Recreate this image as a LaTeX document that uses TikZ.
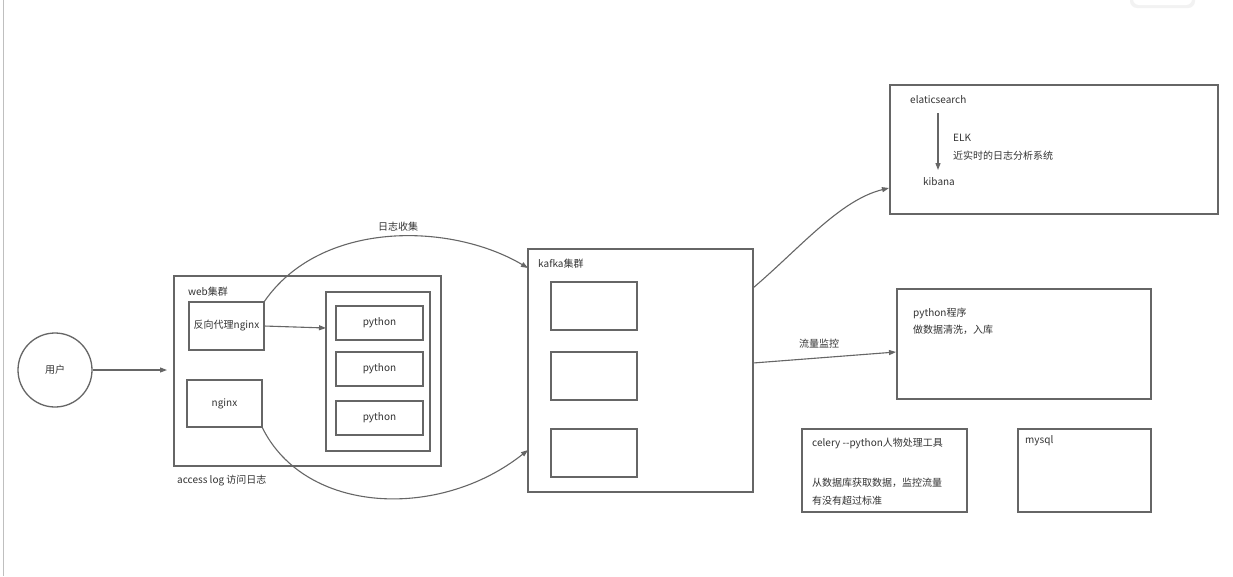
\documentclass[tikz,border=0pt]{standalone}
\usepackage{fontspec}
\setmainfont{Noto Sans CJK SC}
\usetikzlibrary{arrows.meta}
\definecolor{ln}{HTML}{666666}
\definecolor{tx}{HTML}{333333}
\tikzset{
  box/.style={draw=ln, line width=1.3pt, fill=white, inner sep=0pt, outer sep=0pt, anchor=north west},
  lbl/.style={text=tx, inner sep=0pt, anchor=west, font=\fontsize{10}{12}\selectfont},
  ctr/.style={text=tx, inner sep=0pt, font=\fontsize{10}{12}\selectfont},
  conn/.style={draw=ln, line width=1.1pt, -{Triangle[length=7pt,width=5pt]}},
}
\begin{document}
\begin{tikzpicture}[x=1pt,y=-1pt]
\useasboundingbox (0,0) rectangle (1233,576);
\fill[white] (0,0) rectangle (1233,576);
\draw[black!25, line width=0.8pt] (3,0) -- (3,576);
% small rounded shape top right
\fill[black!5, rounded corners=7pt] (1130,-12) rectangle (1195,8);
\fill[white, rounded corners=6pt] (1133,-12) rectangle (1192,5);

% user
\node[circle, draw=ln, line width=1.3pt, minimum size=74pt, inner sep=0pt, text=tx, font=\fontsize{10}{12}\selectfont] (user) at (55,370) {用户};

% web cluster
\node[box, minimum width=267pt, minimum height=190pt] (web) at (174,276) {};
\node[lbl] (webl) at (188,292) {web集群};
\node[box, minimum width=75pt, minimum height=48pt] (proxy) at (189,302) {};
\node[ctr] at (proxy.center) {反向代理nginx};
\node[box, minimum width=75pt, minimum height=47pt] (ngx) at (187,380) {};
\node[ctr] at (ngx.center) {nginx};
\node[box, minimum width=104pt, minimum height=159pt] (pyo) at (326,292) {};
\node[box, minimum width=87pt, minimum height=34pt] (py1) at (336,306) {};
\node[ctr] at (py1.center) {python};
\node[box, minimum width=87pt, minimum height=34pt] (py2) at (336,352) {};
\node[ctr] at (py2.center) {python};
\node[box, minimum width=87pt, minimum height=34pt] (py3) at (336,401) {};
\node[ctr] at (py3.center) {python};
\node[lbl] (acc) at (177,481) {access log 访问日志};

% kafka
\node[box, minimum width=225pt, minimum height=243pt] (kafka) at (528,249) {};
\node[lbl] (kafkal) at (538,264) {kafka集群};
\node[box, minimum width=86pt, minimum height=48pt] (k1) at (551,282) {};
\node[box, minimum width=86pt, minimum height=48pt] (k2) at (551,352) {};
\node[box, minimum width=86pt, minimum height=48pt] (k3) at (551,429) {};

% ELK
\node[box, minimum width=328pt, minimum height=129pt] (elk) at (890,85) {};
\node[lbl] (es) at (910,100) {elaticsearch};
\node[lbl] (kib) at (923,182) {kibana};
\node[lbl] (elkt) at (953,138) {ELK};
\node[lbl] (elkd) at (953,156) {近实时的日志分析系统};
\coordinate (esb) at (938,113);
\coordinate (kibt) at (938,170);

% python program
\node[box, minimum width=254pt, minimum height=110pt] (pp) at (897,289) {};
\node[lbl] (ppt) at (913,313) {python程序};
\node[lbl] (ppd) at (913,330) {做数据清洗，入库};

% celery
\node[box, minimum width=165pt, minimum height=83pt] (cel) at (802,429) {};
\node[lbl] (celt) at (812,443) {celery {-}{-}python人物处理工具};
\node[lbl] (celd1) at (812,483) {从数据库获取数据，监控流量};
\node[lbl] (celd2) at (812,501) {有没有超过标准};

% mysql
\node[box, minimum width=133pt, minimum height=83pt] (my) at (1018,429) {};
\node[lbl] (myt) at (1025,441) {mysql};

% connectors
\coordinate (webin) at (167,370);
\draw[conn] (user.east) -- (webin);
\coordinate (pyin) at (326,328);
\draw[conn] (proxy.east |- 0,326) -- (pyin);
\coordinate (kin1) at (528,268);
\draw[conn] (proxy.north east) .. controls (320,220) and (450,222) .. (kin1);
\node[ctr] (logc) at (398,227) {日志收集};
\coordinate (kin2) at (528,450);
\draw[conn] (ngx.south east) .. controls (305,515) and (440,520) .. (kin2);
\coordinate (kout1) at (753,288);
\coordinate (elkin) at (889,188);
\draw[conn] (kout1) .. controls (800,248) and (840,200) .. (elkin);
\coordinate (kout2) at (753,363);
\coordinate (ppin) at (896,352);
\draw[conn] (kout2) -- (ppin);
\node[ctr] (flow) at (819,344) {流量监控};
\draw[conn] (esb) -- (kibt);
\end{tikzpicture}
\end{document}
